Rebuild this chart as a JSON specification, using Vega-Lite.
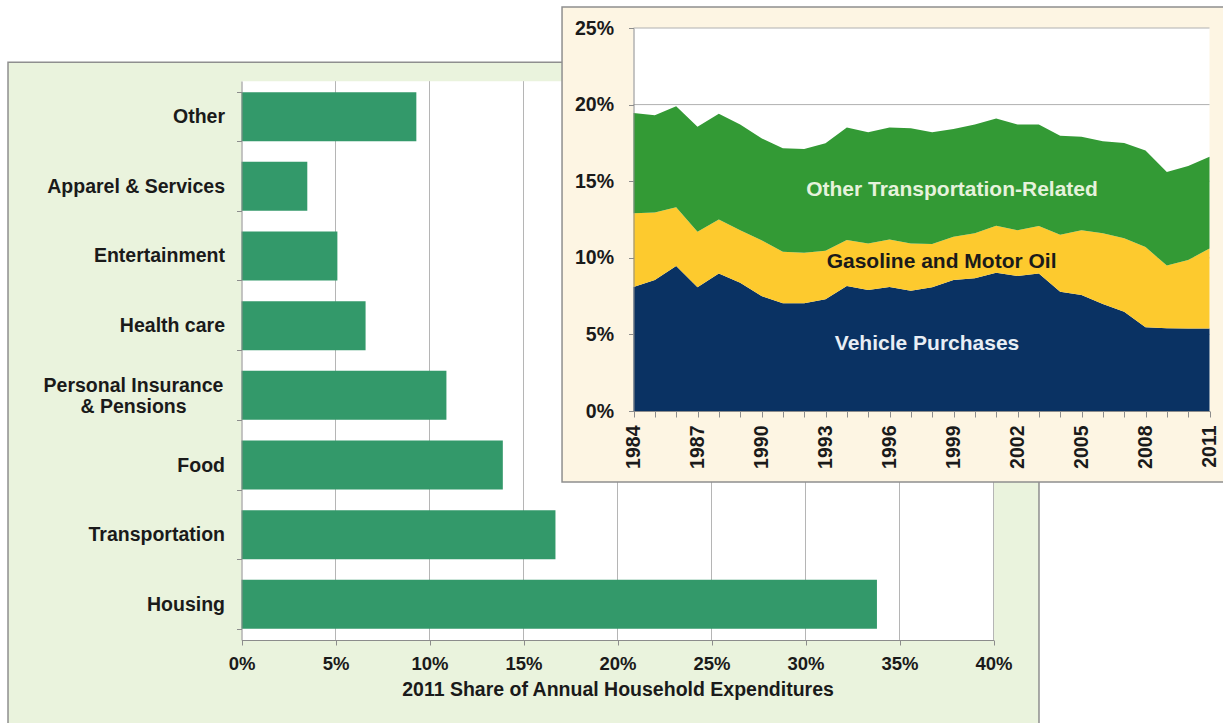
{
  "$schema": "https://vega.github.io/schema/vega-lite/v6.json",
  "width": 1223,
  "height": 723,
  "autosize": "none",
  "padding": 0,
  "background": "#ffffff",
  "config": {
    "view": {"stroke": null},
    "font": "Liberation Sans",
    "axis": {
      "labelFont": "Liberation Sans",
      "labelFontWeight": "bold",
      "labelFontSize": 18.5,
      "labelColor": "#1a1a1a",
      "titleFont": "Liberation Sans",
      "titleFontWeight": "bold",
      "titleFontSize": 19.5,
      "titleColor": "#1a1a1a",
      "domainColor": "#8c8c8c",
      "tickColor": "#8c8c8c",
      "grid": false,
      "labelFlush": false,
      "labelOverlap": false
    }
  },
  "layer": [
    {
      "layer": [
        {
          "data": {"values": [{}]},
          "mark": {"type": "rect", "fill": "#eaf3dd", "stroke": "#8f8f8f", "strokeWidth": 1.5},
          "encoding": {
            "x": {"datum": -12.42, "type": "quantitative", "scale": {"domain": [0, 40], "range": [241.5, 993.5], "nice": false, "zero": false}},
            "x2": {"datum": 42.42},
            "y": {"datum": "Other", "type": "nominal", "bandPosition": -0.612, "scale": {"domain": ["Other", "Apparel & Services", "Entertainment", "Health care", "Personal Insurance & Pensions", "Food", "Transportation", "Housing"], "range": [81, 640], "paddingInner": 0.297, "paddingOuter": 0.16}},
            "y2": {"datum": "Housing", "bandPosition": 3.06}
          }
        },
        {
          "data": {"values": [{}]},
          "mark": {"type": "rect", "fill": "#ffffff"},
          "encoding": {
            "x": {"datum": 0, "type": "quantitative", "scale": {"domain": [0, 40], "range": [241.5, 993.5], "nice": false, "zero": false}},
            "x2": {"datum": 40},
            "y": {"datum": "Other", "type": "nominal", "bandPosition": -0.2245, "scale": {"domain": ["Other", "Apparel & Services", "Entertainment", "Health care", "Personal Insurance & Pensions", "Food", "Transportation", "Housing"], "range": [81, 640], "paddingInner": 0.297, "paddingOuter": 0.16}},
            "y2": {"datum": "Housing", "bandPosition": 1.2265}
          }
        },
        {
          "data": {"values": [{"tick": 5}, {"tick": 10}, {"tick": 15}, {"tick": 20}, {"tick": 25}, {"tick": 30}, {"tick": 35}, {"tick": 40}]},
          "mark": {"type": "rule", "color": "#b5b5b5", "strokeWidth": 1},
          "encoding": {
            "x": {"field": "tick", "type": "quantitative", "scale": {"domain": [0, 40], "range": [241.5, 993.5], "nice": false, "zero": false}},
            "y": {"datum": "Other", "type": "nominal", "bandPosition": -0.2245, "scale": {"domain": ["Other", "Apparel & Services", "Entertainment", "Health care", "Personal Insurance & Pensions", "Food", "Transportation", "Housing"], "range": [81, 640], "paddingInner": 0.297, "paddingOuter": 0.16}},
            "y2": {"datum": "Housing", "bandPosition": 1.2265}
          }
        },
        {
          "data": {"values": [
            {"category": "Other", "share": 9.3},
            {"category": "Apparel & Services", "share": 3.5},
            {"category": "Entertainment", "share": 5.1},
            {"category": "Health care", "share": 6.6},
            {"category": "Personal Insurance & Pensions", "share": 10.9},
            {"category": "Food", "share": 13.9},
            {"category": "Transportation", "share": 16.7},
            {"category": "Housing", "share": 33.8}
          ]},
          "mark": {"type": "bar", "color": "#33996a"},
          "encoding": {
            "x": {
              "field": "share", "type": "quantitative",
              "scale": {"domain": [0, 40], "range": [241.5, 993.5], "nice": false, "zero": false},
              "axis": {
                "orient": "bottom", "offset": -83, "zindex": 2,
                "values": [0, 5, 10, 15, 20, 25, 30, 35, 40],
                "labelExpr": "datum.value + '%'",
                "tickSize": 5, "labelPadding": 9,
                "title": "2011 Share of Annual Household Expenditures",
                "titlePadding": 8
              }
            },
            "y": {
              "field": "category", "type": "nominal",
              "scale": {"domain": ["Other", "Apparel & Services", "Entertainment", "Health care", "Personal Insurance & Pensions", "Food", "Transportation", "Housing"], "range": [81, 640], "paddingInner": 0.297, "paddingOuter": 0.16},
              "axis": {
                "orient": "left", "offset": -241.5, "title": null, "zindex": 2,
                "tickBand": "extent", "tickSize": 5,
                "labelFontSize": 19.5,
                "labelLimit": 400, "labelLineHeight": 21,
                "labelAlign": {"condition": {"test": "datum.value == 'Personal Insurance & Pensions'", "value": "center"}, "value": "right"},
                "labelPadding": {"condition": {"test": "datum.value == 'Personal Insurance & Pensions'", "value": 103.5}, "value": 12},
                "labelOffset": {"condition": {"test": "datum.value == 'Personal Insurance & Pensions'", "value": -10}, "value": 0},
                "labelExpr": "datum.value == 'Personal Insurance & Pensions' ? ['Personal Insurance', '& Pensions'] : datum.label"
              }
            }
          }
        }
      ]
    },
    {
      "layer": [
        {
          "data": {"values": [{}]},
          "mark": {"type": "rect", "fill": "#fdf5e3", "stroke": "#8f8f8f", "strokeWidth": 1.5},
          "encoding": {
            "x": {"datum": 1980.65, "type": "quantitative", "scale": {"domain": [1984, 2011], "range": [633.5, 1209.5], "nice": false, "zero": false}},
            "x2": {"datum": 2012.2},
            "y": {"datum": 26.37, "type": "quantitative", "scale": {"domain": [0, 25], "range": [411, 28], "nice": false, "zero": false}},
            "y2": {"datum": -4.63}
          }
        },
        {
          "data": {"values": [{}]},
          "mark": {"type": "rect", "fill": "#ffffff"},
          "encoding": {
            "x": {"datum": 1984, "type": "quantitative", "scale": {"domain": [1984, 2011], "range": [633.5, 1209.5], "nice": false, "zero": false}},
            "x2": {"datum": 2011},
            "y": {"datum": 25, "type": "quantitative", "scale": {"domain": [0, 25], "range": [411, 28], "nice": false, "zero": false}},
            "y2": {"datum": 0}
          }
        },
        {
          "data": {"values": [{"tick": 5}, {"tick": 10}, {"tick": 15}, {"tick": 20}, {"tick": 25}]},
          "mark": {"type": "rule", "color": "#b0b0b0", "strokeWidth": 1},
          "encoding": {
            "x": {"datum": 1984, "type": "quantitative", "scale": {"domain": [1984, 2011], "range": [633.5, 1209.5], "nice": false, "zero": false}},
            "x2": {"datum": 2011},
            "y": {"field": "tick", "type": "quantitative", "scale": {"domain": [0, 25], "range": [411, 28], "nice": false, "zero": false}}
          }
        },
        {
          "data": {"values": [
            {"year": 1984, "category": "Vehicle Purchases", "rank": 1, "share": 8.1},
            {"year": 1985, "category": "Vehicle Purchases", "rank": 1, "share": 8.55},
            {"year": 1986, "category": "Vehicle Purchases", "rank": 1, "share": 9.46},
            {"year": 1987, "category": "Vehicle Purchases", "rank": 1, "share": 8.07},
            {"year": 1988, "category": "Vehicle Purchases", "rank": 1, "share": 8.98},
            {"year": 1989, "category": "Vehicle Purchases", "rank": 1, "share": 8.37},
            {"year": 1990, "category": "Vehicle Purchases", "rank": 1, "share": 7.5},
            {"year": 1991, "category": "Vehicle Purchases", "rank": 1, "share": 7.03},
            {"year": 1992, "category": "Vehicle Purchases", "rank": 1, "share": 7.03},
            {"year": 1993, "category": "Vehicle Purchases", "rank": 1, "share": 7.29},
            {"year": 1994, "category": "Vehicle Purchases", "rank": 1, "share": 8.16},
            {"year": 1995, "category": "Vehicle Purchases", "rank": 1, "share": 7.9},
            {"year": 1996, "category": "Vehicle Purchases", "rank": 1, "share": 8.1},
            {"year": 1997, "category": "Vehicle Purchases", "rank": 1, "share": 7.85},
            {"year": 1998, "category": "Vehicle Purchases", "rank": 1, "share": 8.07},
            {"year": 1999, "category": "Vehicle Purchases", "rank": 1, "share": 8.55},
            {"year": 2000, "category": "Vehicle Purchases", "rank": 1, "share": 8.66},
            {"year": 2001, "category": "Vehicle Purchases", "rank": 1, "share": 9.03},
            {"year": 2002, "category": "Vehicle Purchases", "rank": 1, "share": 8.81},
            {"year": 2003, "category": "Vehicle Purchases", "rank": 1, "share": 8.98},
            {"year": 2004, "category": "Vehicle Purchases", "rank": 1, "share": 7.79},
            {"year": 2005, "category": "Vehicle Purchases", "rank": 1, "share": 7.57},
            {"year": 2006, "category": "Vehicle Purchases", "rank": 1, "share": 6.98},
            {"year": 2007, "category": "Vehicle Purchases", "rank": 1, "share": 6.48},
            {"year": 2008, "category": "Vehicle Purchases", "rank": 1, "share": 5.46},
            {"year": 2009, "category": "Vehicle Purchases", "rank": 1, "share": 5.4},
            {"year": 2010, "category": "Vehicle Purchases", "rank": 1, "share": 5.38},
            {"year": 2011, "category": "Vehicle Purchases", "rank": 1, "share": 5.38},
            {"year": 1984, "category": "Gasoline and Motor Oil", "rank": 2, "share": 4.8},
            {"year": 1985, "category": "Gasoline and Motor Oil", "rank": 2, "share": 4.4},
            {"year": 1986, "category": "Gasoline and Motor Oil", "rank": 2, "share": 3.84},
            {"year": 1987, "category": "Gasoline and Motor Oil", "rank": 2, "share": 3.63},
            {"year": 1988, "category": "Gasoline and Motor Oil", "rank": 2, "share": 3.52},
            {"year": 1989, "category": "Gasoline and Motor Oil", "rank": 2, "share": 3.43},
            {"year": 1990, "category": "Gasoline and Motor Oil", "rank": 2, "share": 3.65},
            {"year": 1991, "category": "Gasoline and Motor Oil", "rank": 2, "share": 3.37},
            {"year": 1992, "category": "Gasoline and Motor Oil", "rank": 2, "share": 3.3},
            {"year": 1993, "category": "Gasoline and Motor Oil", "rank": 2, "share": 3.17},
            {"year": 1994, "category": "Gasoline and Motor Oil", "rank": 2, "share": 3.0},
            {"year": 1995, "category": "Gasoline and Motor Oil", "rank": 2, "share": 3.04},
            {"year": 1996, "category": "Gasoline and Motor Oil", "rank": 2, "share": 3.1},
            {"year": 1997, "category": "Gasoline and Motor Oil", "rank": 2, "share": 3.09},
            {"year": 1998, "category": "Gasoline and Motor Oil", "rank": 2, "share": 2.83},
            {"year": 1999, "category": "Gasoline and Motor Oil", "rank": 2, "share": 2.83},
            {"year": 2000, "category": "Gasoline and Motor Oil", "rank": 2, "share": 2.94},
            {"year": 2001, "category": "Gasoline and Motor Oil", "rank": 2, "share": 3.07},
            {"year": 2002, "category": "Gasoline and Motor Oil", "rank": 2, "share": 2.99},
            {"year": 2003, "category": "Gasoline and Motor Oil", "rank": 2, "share": 3.09},
            {"year": 2004, "category": "Gasoline and Motor Oil", "rank": 2, "share": 3.71},
            {"year": 2005, "category": "Gasoline and Motor Oil", "rank": 2, "share": 4.23},
            {"year": 2006, "category": "Gasoline and Motor Oil", "rank": 2, "share": 4.62},
            {"year": 2007, "category": "Gasoline and Motor Oil", "rank": 2, "share": 4.79},
            {"year": 2008, "category": "Gasoline and Motor Oil", "rank": 2, "share": 5.24},
            {"year": 2009, "category": "Gasoline and Motor Oil", "rank": 2, "share": 4.1},
            {"year": 2010, "category": "Gasoline and Motor Oil", "rank": 2, "share": 4.48},
            {"year": 2011, "category": "Gasoline and Motor Oil", "rank": 2, "share": 5.22},
            {"year": 1984, "category": "Other Transportation-Related", "rank": 3, "share": 6.55},
            {"year": 1985, "category": "Other Transportation-Related", "rank": 3, "share": 6.35},
            {"year": 1986, "category": "Other Transportation-Related", "rank": 3, "share": 6.6},
            {"year": 1987, "category": "Other Transportation-Related", "rank": 3, "share": 6.85},
            {"year": 1988, "category": "Other Transportation-Related", "rank": 3, "share": 6.9},
            {"year": 1989, "category": "Other Transportation-Related", "rank": 3, "share": 6.9},
            {"year": 1990, "category": "Other Transportation-Related", "rank": 3, "share": 6.65},
            {"year": 1991, "category": "Other Transportation-Related", "rank": 3, "share": 6.75},
            {"year": 1992, "category": "Other Transportation-Related", "rank": 3, "share": 6.77},
            {"year": 1993, "category": "Other Transportation-Related", "rank": 3, "share": 7.01},
            {"year": 1994, "category": "Other Transportation-Related", "rank": 3, "share": 7.34},
            {"year": 1995, "category": "Other Transportation-Related", "rank": 3, "share": 7.26},
            {"year": 1996, "category": "Other Transportation-Related", "rank": 3, "share": 7.3},
            {"year": 1997, "category": "Other Transportation-Related", "rank": 3, "share": 7.51},
            {"year": 1998, "category": "Other Transportation-Related", "rank": 3, "share": 7.3},
            {"year": 1999, "category": "Other Transportation-Related", "rank": 3, "share": 7.02},
            {"year": 2000, "category": "Other Transportation-Related", "rank": 3, "share": 7.1},
            {"year": 2001, "category": "Other Transportation-Related", "rank": 3, "share": 7.0},
            {"year": 2002, "category": "Other Transportation-Related", "rank": 3, "share": 6.9},
            {"year": 2003, "category": "Other Transportation-Related", "rank": 3, "share": 6.63},
            {"year": 2004, "category": "Other Transportation-Related", "rank": 3, "share": 6.47},
            {"year": 2005, "category": "Other Transportation-Related", "rank": 3, "share": 6.1},
            {"year": 2006, "category": "Other Transportation-Related", "rank": 3, "share": 6.0},
            {"year": 2007, "category": "Other Transportation-Related", "rank": 3, "share": 6.23},
            {"year": 2008, "category": "Other Transportation-Related", "rank": 3, "share": 6.3},
            {"year": 2009, "category": "Other Transportation-Related", "rank": 3, "share": 6.1},
            {"year": 2010, "category": "Other Transportation-Related", "rank": 3, "share": 6.14},
            {"year": 2011, "category": "Other Transportation-Related", "rank": 3, "share": 6.0}
          ]},
          "mark": {"type": "area", "opacity": 1},
          "encoding": {
            "x": {
              "field": "year", "type": "quantitative",
              "scale": {"domain": [1984, 2011], "range": [633.5, 1209.5], "nice": false, "zero": false},
              "axis": {
                "orient": "bottom", "offset": -312, "zindex": 2,
                "values": [1984, 1985, 1986, 1987, 1988, 1989, 1990, 1991, 1992, 1993, 1994, 1995, 1996, 1997, 1998, 1999, 2000, 2001, 2002, 2003, 2004, 2005, 2006, 2007, 2008, 2009, 2010, 2011],
                "labelExpr": "(datum.value - 1984) % 3 == 0 ? '' + datum.value : ''",
                "labelFontSize": 19.5,
                "labelAngle": -90, "tickSize": 6, "labelPadding": 8, "title": null
              }
            },
            "y": {
              "field": "share", "type": "quantitative", "stack": "zero",
              "scale": {"domain": [0, 25], "range": [411, 28], "nice": false, "zero": false},
              "axis": {
                "orient": "left", "offset": -633.5, "zindex": 2,
                "values": [0, 5, 10, 15, 20, 25],
                "labelExpr": "datum.value + '%'",
                "labelFontSize": 19.5,
                "tickSize": 5, "labelPadding": 15, "title": null
              }
            },
            "color": {
              "field": "category", "type": "nominal", "legend": null,
              "scale": {"domain": ["Vehicle Purchases", "Gasoline and Motor Oil", "Other Transportation-Related"], "range": ["#0a3263", "#fdca2e", "#339a35"]}
            },
            "order": {"field": "rank", "type": "quantitative"}
          }
        },
        {
          "data": {"values": [{}]},
          "mark": {"type": "text", "font": "Liberation Sans", "fontWeight": "bold", "fontSize": 21, "color": "#e6f2dc", "align": "center", "baseline": "middle"},
          "encoding": {
            "x": {"datum": 1998.93, "type": "quantitative", "scale": {"domain": [1984, 2011], "range": [633.5, 1209.5], "nice": false, "zero": false}},
            "y": {"datum": 14.43, "type": "quantitative", "scale": {"domain": [0, 25], "range": [411, 28], "nice": false, "zero": false}},
            "text": {"value": "Other Transportation-Related"}
          }
        },
        {
          "data": {"values": [{}]},
          "mark": {"type": "text", "font": "Liberation Sans", "fontWeight": "bold", "fontSize": 21, "color": "#1a1a1a", "align": "center", "baseline": "middle"},
          "encoding": {
            "x": {"datum": 1998.44, "type": "quantitative", "scale": {"domain": [1984, 2011], "range": [633.5, 1209.5], "nice": false, "zero": false}},
            "y": {"datum": 9.73, "type": "quantitative", "scale": {"domain": [0, 25], "range": [411, 28], "nice": false, "zero": false}},
            "text": {"value": "Gasoline and Motor Oil"}
          }
        },
        {
          "data": {"values": [{}]},
          "mark": {"type": "text", "font": "Liberation Sans", "fontWeight": "bold", "fontSize": 21, "color": "#e8eef5", "align": "center", "baseline": "middle"},
          "encoding": {
            "x": {"datum": 1997.76, "type": "quantitative", "scale": {"domain": [1984, 2011], "range": [633.5, 1209.5], "nice": false, "zero": false}},
            "y": {"datum": 4.37, "type": "quantitative", "scale": {"domain": [0, 25], "range": [411, 28], "nice": false, "zero": false}},
            "text": {"value": "Vehicle Purchases"}
          }
        }
      ]
    }
  ],
  "resolve": {
    "scale": {"x": "independent", "y": "independent"},
    "axis": {"x": "independent", "y": "independent"}
  }
}
